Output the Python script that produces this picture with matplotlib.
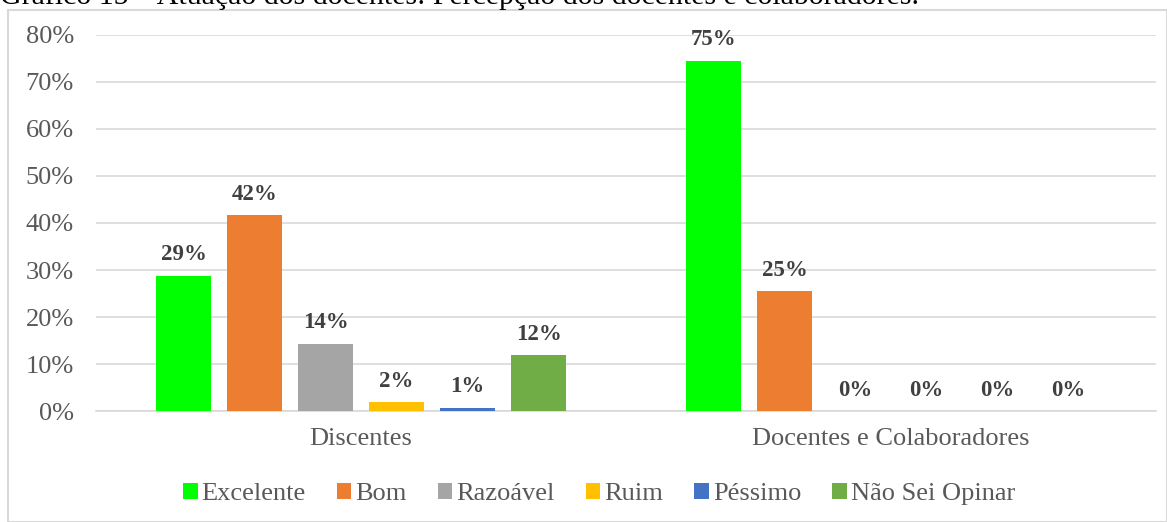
import matplotlib.pyplot as plt
import numpy as np
from matplotlib.patches import Rectangle

# dados
grupos = ["Discentes", "Docentes e Colaboradores"]
respostas = ["Excelente", "Bom", "Razoável", "Ruim", "Péssimo", "Não Sei Opinar"]
discentes = [28.8, 41.7, 14.3, 1.9, 0.7, 11.9]
docentes = [74.5, 25.5, 0, 0, 0, 0]
rotulos_discentes = ["29%", "42%", "14%", "2%", "1%", "12%"]
rotulos_docentes = ["75%", "25%", "0%", "0%", "0%", "0%"]
cores = ["#00FF00", "#ED7D31", "#A5A5A5", "#FFC000", "#4472C4", "#70AD47"]

plt.rcParams['font.family'] = ['Liberation Serif', 'DejaVu Serif']

fig = plt.figure(figsize=(11.67, 5.22), dpi=100)
ax = fig.add_axes([96 / 1167, 0.2126, 1060 / 1167, 0.7204])

# moldura do grafico
fig.patches.append(Rectangle((8 / 1167, 0), 1 - 8 / 1167, 1 - 10 / 522,
                             transform=fig.transFigure, fill=False,
                             edgecolor="#D9D9D9", linewidth=1.5))

# titulo cortado no topo
fig.text(0.0, 1 - 4 / 522,
         "Gráfico 15 – Atuação dos docentes: Percepção dos docentes e colaboradores.",
         fontsize=21.5, color="black", va="baseline", ha="left")

x = np.arange(len(grupos))
passo = 0.134
largura = 0.104
valores = np.array([discentes, docentes])
rotulos = [rotulos_discentes, rotulos_docentes]

for i, resp in enumerate(respostas):
    pos = x + (i - 2.5) * passo
    alturas = valores[:, i]
    ax.bar(pos, alturas, width=largura, color=cores[i], label=resp, zorder=3)
    for j in range(len(grupos)):
        ax.text(pos[j], alturas[j] + 2.2, rotulos[j][i], ha="center", va="bottom",
                fontsize=16.5, fontweight="bold", color="#404040")

ax.set_xlim(-0.5, 1.5)
ax.set_ylim(0, 80)
ax.set_yticks(range(0, 81, 10))
ax.set_yticklabels([f"{v}%" for v in range(0, 81, 10)])
ax.set_xticks(x)
ax.set_xticklabels(grupos)
ax.tick_params(axis="both", length=0, labelsize=19, labelcolor="#595959")
ax.tick_params(axis="x", pad=12)
ax.tick_params(axis="y", pad=16)
ax.grid(axis="y", color="#D9D9D9", linewidth=1.2, zorder=0)
for lado in ["top", "right", "left"]:
    ax.spines[lado].set_visible(False)
ax.spines["bottom"].set_color("#D9D9D9")
ax.spines["bottom"].set_linewidth(1.2)

fig.legend(loc="center", bbox_to_anchor=(599 / 1167, 1 - 494 / 522), ncol=6, frameon=False,
           fontsize=19, labelcolor="#595959", handlelength=0.55, handleheight=0.55,
           handletextpad=0.15, columnspacing=1.18)

plt.savefig("out.png")
